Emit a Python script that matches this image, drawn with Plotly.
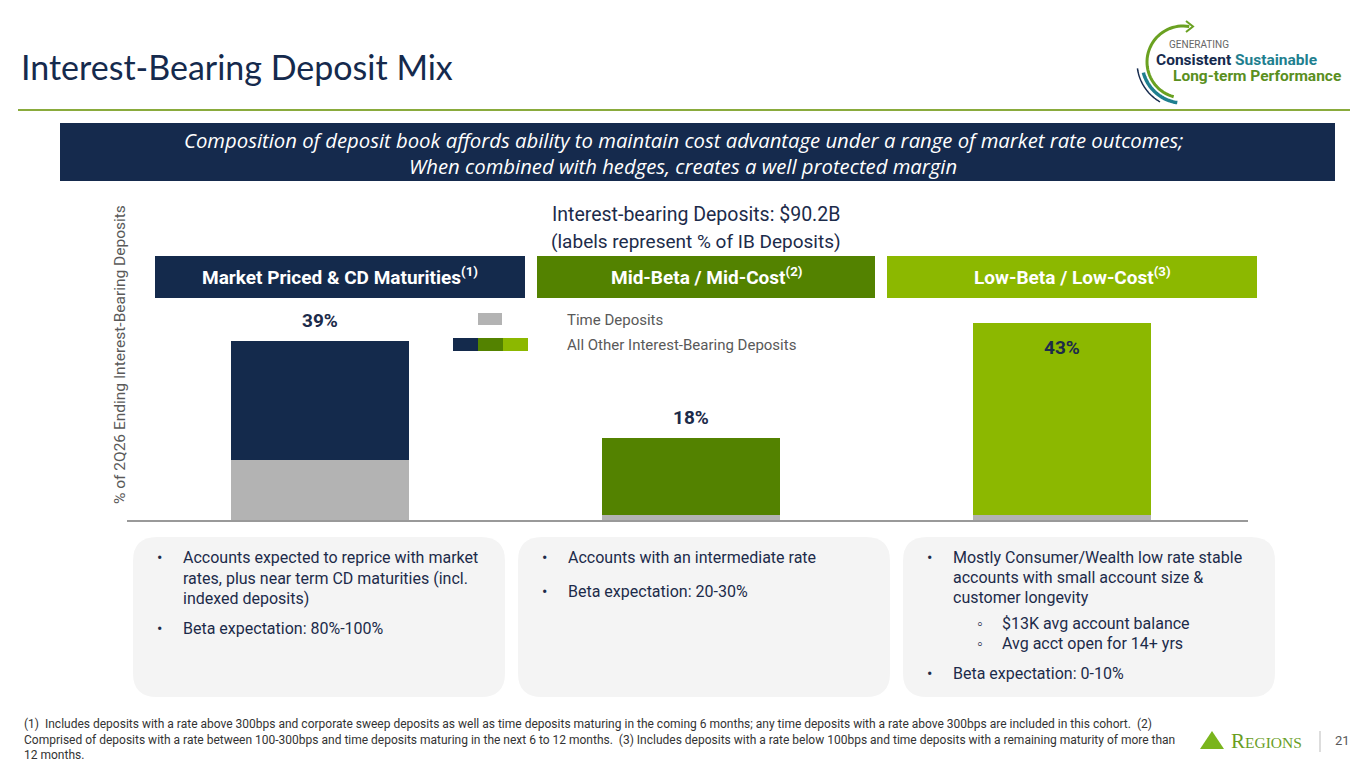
import numpy as np
import plotly.graph_objects as go

# page body has an 8px margin, so the figure is a bit smaller and coords are shifted
OFF = 8
W, H = 1365 - OFF, 768 - OFF

# ---- data ----
categories = ["Market Priced & CD Maturities", "Mid-Beta / Mid-Cost", "Low-Beta / Low-Cost"]
footnote_refs = ["(1)", "(2)", "(3)"]
time_deposits = [13, 1, 1]
other_deposits = [26, 17, 42]
total_labels = [39, 18, 43]
bar_colors = ["#142a4c", "#538200", "#8cb800"]
time_color = "#b3b3b3"

NAVY = "#152a4d"
TEXT = "#1c2b4a"
GREY_TXT = "#595959"
BODY_FONT = "Roboto"


def fx(p):
    return (p - OFF) / W


def fy(p):
    return 1 - (p - OFF) / H


def rrect(x0, y0, x1, y1, r):
    # rounded rectangle path in paper coords, pixel inputs (y down)
    return (f"M {fx(x0 + r)},{fy(y0)} L {fx(x1 - r)},{fy(y0)} "
            f"Q {fx(x1)},{fy(y0)} {fx(x1)},{fy(y0 + r)} "
            f"L {fx(x1)},{fy(y1 - r)} Q {fx(x1)},{fy(y1)} {fx(x1 - r)},{fy(y1)} "
            f"L {fx(x0 + r)},{fy(y1)} Q {fx(x0)},{fy(y1)} {fx(x0)},{fy(y1 - r)} "
            f"L {fx(x0)},{fy(y0 + r)} Q {fx(x0)},{fy(y0)} {fx(x0 + r)},{fy(y0)} Z")


def arc(cx, cy, r, a0, a1, n=40):
    t = np.radians(np.linspace(a0, a1, n))
    pts = [(fx(cx + r * np.cos(a)), fy(cy + r * np.sin(a))) for a in t]
    return "M " + " L ".join(f"{x},{y}" for x, y in pts)


fig = go.Figure()
xs = list(range(len(categories)))

fig.add_trace(go.Bar(x=xs, y=time_deposits, marker=dict(color=time_color, line_width=0),
                     width=0.48, name="Time Deposits", hoverinfo="skip", textposition="none"))
fig.add_trace(go.Bar(x=xs, y=other_deposits, marker=dict(color=bar_colors, line_width=0),
                     width=0.48, name="All Other Interest-Bearing Deposits", hoverinfo="skip",
                     textposition="none"))

shapes = []
ann = []

def text(x, y, s, size=16, color=TEXT, family=BODY_FONT, xanchor="left", **kw):
    ann.append(dict(x=fx(x), y=fy(y), xref="paper", yref="paper", text=s, showarrow=False,
                    xanchor=xanchor, yanchor="middle", font=dict(size=size, color=color, family=family), **kw))

# title + rule
text(19, 66, "Interest-Bearing Deposit Mix", size=34, color=NAVY, family="Lato")
shapes.append(dict(type="line", xref="paper", yref="paper", x0=fx(18), x1=fx(1350), y0=fy(110), y1=fy(110),
                   line=dict(color="#8aab3c", width=2)))

# banner
shapes.append(dict(type="rect", xref="paper", yref="paper", x0=fx(60), x1=fx(1335), y0=fy(123), y1=fy(181),
                   fillcolor=NAVY, line_width=0))
text(683, 140, "<i>Composition of deposit book affords ability to maintain cost advantage under a range of market rate outcomes;</i>",
     size=20.3, color="white", family="Open Sans", xanchor="center")
text(683, 166, "<i>When combined with hedges, creates a well protected margin</i>",
     size=20.3, color="white", family="Open Sans", xanchor="center")

# chart heading
text(696, 214, "Interest-bearing Deposits: $90.2B", size=19.5, color=TEXT, xanchor="center")
text(696, 241, "(labels represent % of IB Deposits)", size=19, color=TEXT, xanchor="center")

# category header boxes
hdr = [(155, 525), (537, 875), (887, 1257)]
for (x0, x1), cat, ref, col in zip(hdr, categories, footnote_refs, bar_colors):
    shapes.append(dict(type="rect", xref="paper", yref="paper", x0=fx(x0), x1=fx(x1), y0=fy(256), y1=fy(298),
                       fillcolor=col, line_width=0))
    text((x0 + x1) / 2, 277, f"<b>{cat}<sup>{ref}</sup></b>", size=19, color="white", xanchor="center")

# value labels
for i, t in enumerate(total_labels):
    inside = i == 2
    ann.append(dict(x=xs[i], y=t, xref="x", yref="y", text=f"<b>{t}%</b>", showarrow=False,
                    yanchor="top" if inside else "bottom", yshift=-11 if inside else 7,
                    font=dict(size=19, color=TEXT, family=BODY_FONT)))

# legend
shapes.append(dict(type="rect", xref="paper", yref="paper", x0=fx(478), x1=fx(502), y0=fy(313), y1=fy(325),
                   fillcolor=time_color, line_width=0))
for k, col in enumerate(bar_colors):
    shapes.append(dict(type="rect", xref="paper", yref="paper", x0=fx(453 + 25 * k), x1=fx(478 + 25 * k),
                       y0=fy(338), y1=fy(351), fillcolor=col, line_width=0))
text(565, 320, "Time Deposits", size=15, color=GREY_TXT)
text(565, 345, "All Other Interest-Bearing Deposits", size=15, color=GREY_TXT)

# y-axis title
ann.append(dict(x=fx(120), y=fy(355), xref="paper", yref="paper", text="% of 2Q26 Ending Interest-Bearing Deposits",
                textangle=-90, showarrow=False, xanchor="center", yanchor="middle",
                font=dict(size=15.5, color=GREY_TXT, family=BODY_FONT)))

# bottom boxes
for x0, x1 in [(133, 505), (518, 890), (903, 1275)]:
    shapes.append(dict(type="path", xref="paper", yref="paper", path=rrect(x0, 537, x1, 697, 24),
                       fillcolor="#f4f4f4", line_width=0, layer="below"))

def bullet(x, y, s, mark="•", gap=26):
    text(x, y, mark, size=16)
    text(x + gap, y, s, size=16)

bullet(155, 557, "Accounts expected to reprice with market")
text(181, 578, "rates, plus near term CD maturities (incl.")
text(181, 598, "indexed deposits)")
bullet(155, 628, "Beta expectation: 80%-100%")

bullet(540, 557, "Accounts with an intermediate rate")
bullet(540, 591, "Beta expectation: 20-30%")

bullet(925, 557, "Mostly Consumer/Wealth low rate stable")
text(951, 577, "accounts with small account size &")
text(951, 597, "customer longevity")
bullet(975, 623, "$13K avg account balance", mark="◦", gap=25)
bullet(975, 643, "Avg acct open for 14+ yrs", mark="◦", gap=25)
bullet(925, 673, "Beta expectation: 0-10%")

# footnotes
foot = [
    "(1)  Includes deposits with a rate above 300bps and corporate sweep deposits as well as time deposits maturing in the coming 6 months; any time deposits with a rate above 300bps are included in this cohort.  (2)",
    "Comprised of deposits with a rate between 100-300bps and time deposits maturing in the next 6 to 12 months.  (3) Includes deposits with a rate below 100bps and time deposits with a remaining maturity of more than",
    "12 months.",
]
for k, line in enumerate(foot):
    text(22, 724 + 15.5 * k, line, size=12, color="#333333")

# Regions logo + page number
shapes.append(dict(type="path", xref="paper", yref="paper",
                   path=f"M {fx(1200)},{fy(749)} L {fx(1212)},{fy(731)} L {fx(1224)},{fy(749)} Z",
                   fillcolor="#7ab51d", line_width=0))
text(1229, 741, "R<span style='font-size:15.5px'>EGIONS</span>", size=21, color="#6a9e1f", family="Liberation Serif")
shapes.append(dict(type="line", xref="paper", yref="paper", x0=fx(1320), x1=fx(1320), y0=fy(731), y1=fy(752),
                   line=dict(color="#bbbbbb", width=1)))
text(1333, 740, "21", size=13, color=GREY_TXT)

# top-right logo
cx, cy = 1183, 62
shapes.append(dict(type="path", xref="paper", yref="paper", path=arc(cx, cy, 36, -80, -255),
                   line=dict(color="#6aa121", width=3)))
shapes.append(dict(type="path", xref="paper", yref="paper",
                   path=f"M {fx(1186)},{fy(21)} L {fx(1193)},{fy(26.5)} L {fx(1186)},{fy(32)}",
                   line=dict(color="#6aa121", width=2)))
shapes.append(dict(type="path", xref="paper", yref="paper", path=arc(cx, cy, 41, -195, -262),
                   line=dict(color="#1f7f8f", width=3.5)))
shapes.append(dict(type="path", xref="paper", yref="paper", path=arc(cx, cy, 46, -188, -240),
                   line=dict(color=NAVY, width=1.5)))
text(1167, 44, "GENERATING", size=10, color="#666666")
text(1154, 60, "<b>Consistent</b> <b><span style='color:#1f7f8f'>Sustainable</span></b>", size=15.5, color=NAVY)
text(1171, 76, "<b>Long-term Performance</b>", size=15.5, color="#5a8f1e")

fig.update_layout(
    width=W, height=H, barmode="stack", showlegend=False,
    paper_bgcolor="white", plot_bgcolor="white",
    margin=dict(l=0, r=0, t=0, b=0),
    xaxis=dict(domain=[fx(127), fx(1248)], range=[-0.52, 2.5], showticklabels=False, showgrid=False,
               zeroline=False, showline=True, linecolor="#999999", linewidth=2, fixedrange=True),
    yaxis=dict(domain=[fy(520), fy(520 - 46 * 4.58)], range=[0, 46], showticklabels=False, showgrid=False,
               zeroline=False, showline=False, fixedrange=True),
    shapes=shapes, annotations=ann,
)

fig.write_html("out.html")
